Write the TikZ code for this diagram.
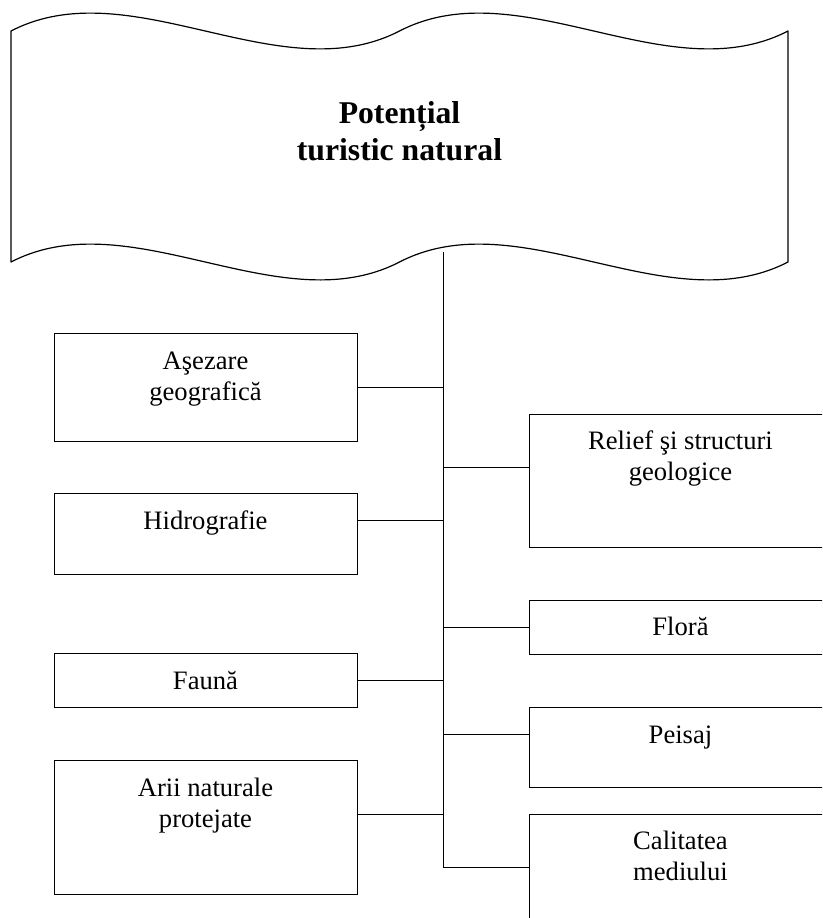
\documentclass[tikz,border=0pt]{standalone}
\usepackage{fontspec}
\setmainfont{Liberation Serif}
\begin{document}
\begin{tikzpicture}[x=1pt,y=-1pt,
  boxstyle/.style={draw, line width=1.3pt, minimum width=303pt, anchor=north west, inner sep=0pt},
  txt/.style={anchor=base, inner sep=0pt, font=\fontsize{26.6}{31}\selectfont},
  ttl/.style={anchor=base, inner sep=0pt, font=\bfseries\fontsize{31.7}{37}\selectfont},
  link/.style={line width=1pt},
  banner/.style={draw, line width=1.2pt, line join=round}]
\useasboundingbox (0,0) rectangle (822,918);
\clip (0,0) rectangle (822,918);
% banner
\draw[banner] (11,31) .. controls (131,-31) and (279.5,93) .. (399.5,31)
  .. controls (519.5,-31) and (668,93) .. (788,31)
  -- (788,262) .. controls (668,324) and (519.5,200) .. (399.5,262)
  .. controls (279.5,324) and (131,200) .. (11,262) -- cycle;
\node[ttl] (t1) at (399.5,123) {Potențial};
\node[ttl] (t2) at (399.5,160) {turistic natural};
% boxes
\node[boxstyle, minimum height=108pt] (asez) at (54,333) {};
\node[boxstyle, minimum height=81pt] (hidro) at (54,493) {};
\node[boxstyle, minimum height=54pt] (fauna) at (54,653) {};
\node[boxstyle, minimum height=134pt] (arii) at (54,760) {};
\node[boxstyle, minimum height=133pt] (relief) at (529,414) {};
\node[boxstyle, minimum height=54pt] (flora) at (529,600) {};
\node[boxstyle, minimum height=80pt] (peisaj) at (529,707) {};
\node[boxstyle, minimum height=133pt] (calit) at (529,814) {};
% texts
\node[txt] (asezA) at (205.5,369) {Aşezare};
\node[txt] (asezB) at (205.5,400) {geografică};
\node[txt] (hidroA) at (205.5,529) {Hidrografie};
\node[txt] (faunaA) at (205.5,689) {Faună};
\node[txt] (ariiA) at (205.5,796) {Arii naturale};
\node[txt] (ariiB) at (205.5,827) {protejate};
\node[txt] (reliefA) at (680.5,449) {Relief şi structuri};
\node[txt] (reliefB) at (680.5,480) {geologice};
\node[txt] (floraA) at (680.5,635) {Floră};
\node[txt] (peisajA) at (680.5,743) {Peisaj};
\node[txt] (calitA) at (680.5,849) {Calitatea};
\node[txt] (calitB) at (680.5,880) {mediului};
% trunk and junctions
\coordinate (top) at (443,252);
\coordinate (j1) at (443,387);
\coordinate (j2) at (443,467);
\coordinate (j3) at (443,520);
\coordinate (j4) at (443,627);
\coordinate (j5) at (443,680);
\coordinate (j6) at (443,734);
\coordinate (j7) at (443,814);
\coordinate (j8) at (443,867);
\draw[link] (top) -- (j8);
\draw[link] (j1) -- (j1 -| asez.east);
\draw[link] (j2) -- (j2 -| relief.west);
\draw[link] (j3) -- (j3 -| hidro.east);
\draw[link] (j4) -- (j4 -| flora.west);
\draw[link] (j5) -- (j5 -| fauna.east);
\draw[link] (j6) -- (j6 -| peisaj.west);
\draw[link] (j7) -- (j7 -| arii.east);
\draw[link] (j8) -- (j8 -| calit.west);
\end{tikzpicture}
\end{document}
